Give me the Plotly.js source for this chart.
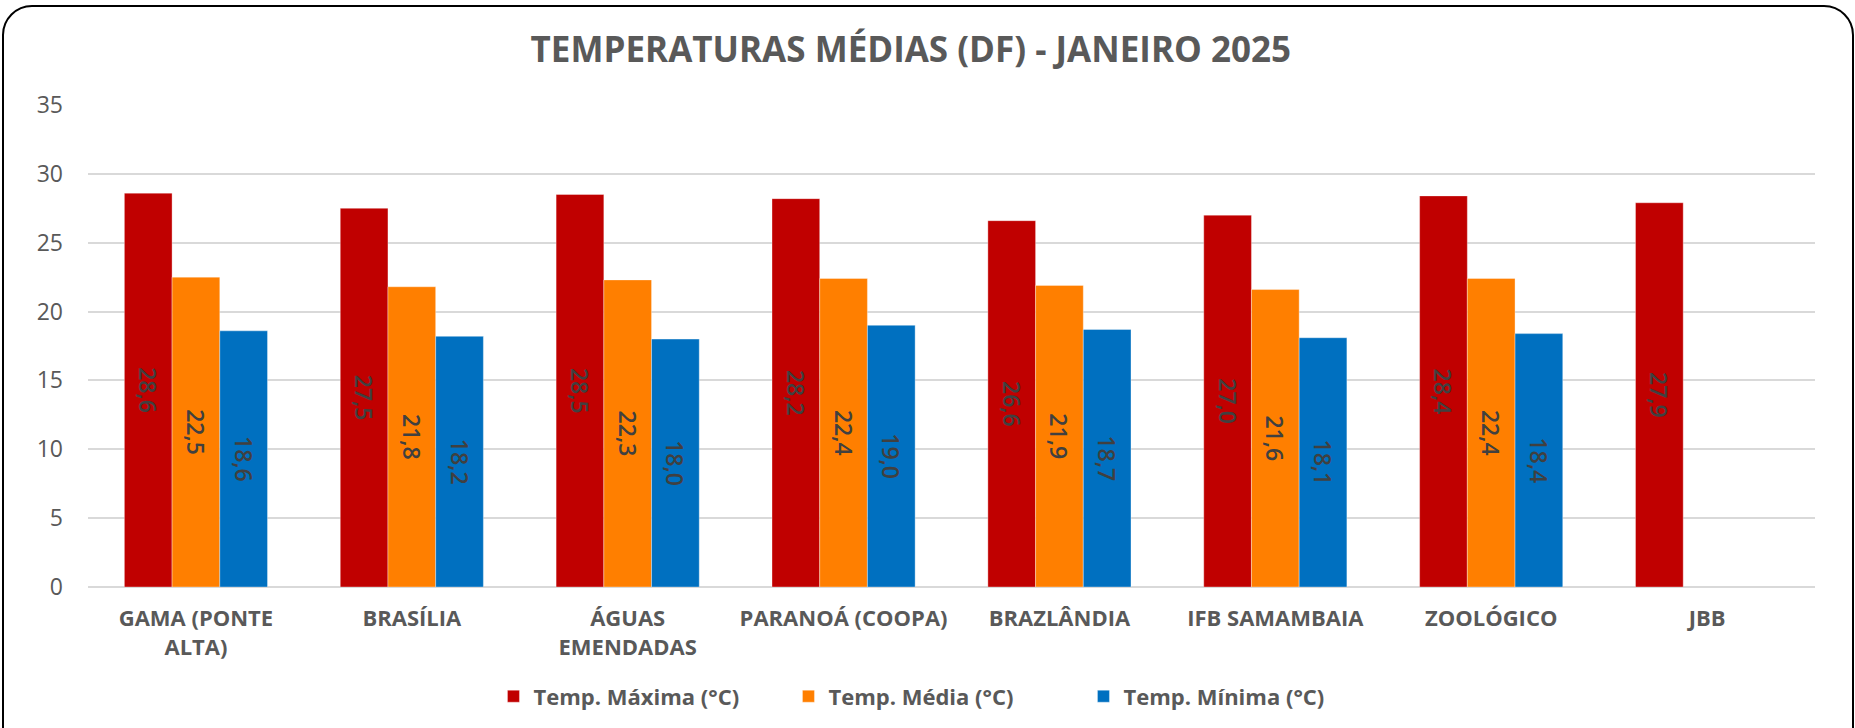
<!DOCTYPE html>
<html>
<head>
<meta charset="utf-8">
<script src="https://cdn.plot.ly/plotly-3.0.1.min.js"></script>
<style>
  html, body { margin: 0; padding: 0; background: #ffffff; }
  #wrap { position: relative; width: 1855px; height: 728px; overflow: hidden; }
  #chart { position: absolute; left: 0; top: 0; width: 1855px; height: 728px; }
  #frame { position: absolute; left: 2px; top: 5px; width: 1852px; height: 780px;
           box-sizing: border-box; border: 2px solid #000; border-radius: 30px; pointer-events: none; }
</style>
</head>
<body>
<div id="wrap">
  <div id="chart"></div>
  <div id="frame"></div>
</div>
<script>
const categories = ['GAMA (PONTE<br>ALTA)', 'BRASÍLIA', 'ÁGUAS<br>EMENDADAS', 'PARANOÁ (COOPA)',
                    'BRAZLÂNDIA', 'IFB SAMAMBAIA', 'ZOOLÓGICO', 'JBB'];
const tempMaxima = [28.6, 27.5, 28.5, 28.2, 26.6, 27.0, 28.4, 27.9];
const tempMedia  = [22.5, 21.8, 22.3, 22.4, 21.9, 21.6, 22.4, null];
const tempMinima = [18.6, 18.2, 18.0, 19.0, 18.7, 18.1, 18.4, null];
const seriesNames = ['Temp. Máxima (°C)', 'Temp. Média (°C)', 'Temp. Mínima (°C)'];
const seriesColors = ['#C00000', '#FF7F00', '#0070C0'];
const yTicks = [0, 5, 10, 15, 20, 25, 30, 35];

const FONT = '"Open Sans", "Noto Sans", sans-serif';
const labelFont = { family: FONT, size: 23, color: '#404040', weight: 600 };

function barTrace(values, name, color) {
  return {
    type: 'bar', x: categories, y: values, name: name,
    marker: { color: color, line: { color: 'rgba(255,255,255,0.35)', width: 1 } },
    texttemplate: '%{y:.1f}', textposition: 'inside', insidetextanchor: 'middle',
    textangle: 90, textfont: labelFont, constraintext: 'none',
    hoverinfo: 'x+y+name'
  };
}

const data = [
  barTrace(tempMaxima, seriesNames[0], seriesColors[0]),
  barTrace(tempMedia, seriesNames[1], seriesColors[1]),
  barTrace(tempMinima, seriesNames[2], seriesColors[2])
];

const layout = {
  width: 1855, height: 728,
  paper_bgcolor: '#ffffff', plot_bgcolor: '#ffffff',
  separators: ',.',
  margin: { l: 88, r: 40, t: 105, b: 141, pad: 0, autoexpand: false },
  barmode: 'group', bargap: 0.337, bargroupgap: 0,
  title: {
    text: '<b>TEMPERATURAS MÉDIAS (DF) - JANEIRO 2025</b>',
    font: { family: FONT, size: 35, color: '#595959' },
    x: 0.491, xanchor: 'center', y: 0.931, yanchor: 'middle', yref: 'container'
  },
  xaxis: {
    type: 'category', showgrid: false, showline: false, zeroline: false,
    ticks: '', tickfont: { family: FONT, size: 22, color: '#595959', weight: 'bold' },
    ticklabelstandoff: 16, automargin: false
  },
  yaxis: {
    range: [0, 35], tickvals: yTicks, showgrid: true, gridcolor: '#D9D9D9', gridwidth: 2,
    zeroline: true, zerolinecolor: '#D9D9D9', zerolinewidth: 2, showline: false,
    ticks: '', tickfont: { family: FONT, size: 23, color: '#595959' }, ticklabelstandoff: 24,
    automargin: false
  },
  legend: {
    orientation: 'h', x: 0.491, xanchor: 'center', y: -0.227, yanchor: 'middle',
    font: { family: FONT, size: 22, color: '#595959', weight: 'bold' },
    entrywidth: 250, itemwidth: 30, traceorder: 'normal'
  },
  showlegend: true
};

Plotly.newPlot('chart', data, layout, { displayModeBar: false, staticPlot: true });
</script>
</body>
</html>
